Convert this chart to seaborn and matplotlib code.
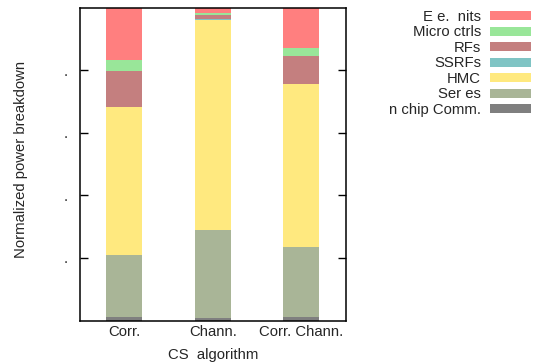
import numpy as np
import pandas as pd
import matplotlib
matplotlib.use("Agg")
import matplotlib.pyplot as plt
from matplotlib.patches import Patch
import seaborn as sns

# Per-algorithm power breakdown (fractions of total), bottom to top
algorithms = ["Corr.", "Chann.", "Corr. Chann."]
onchip_comm = [0.011, 0.008, 0.011]
services = [0.198, 0.281, 0.223]
hmc = [0.472, 0.671, 0.522]
ssrfs = [0.000, 0.003, 0.000]
rfs = [0.116, 0.012, 0.089]
micro_ctrls = [0.035, 0.006, 0.026]
exec_units = [0.168, 0.019, 0.129]

layer_names = ["n chip Comm.", "Ser es", "HMC", "SSRFs", "RFs", "Micro ctrls", "E e.  nits"]
layer_values = [onchip_comm, services, hmc, ssrfs, rfs, micro_ctrls, exec_units]
layer_colors = ["#7f7f7f", "#a9b597", "#ffe97f", "#7fc4c4", "#c47f7f", "#99e699", "#ff7f7f"]

ytick_values = [0.2, 0.4, 0.6, 0.8]
ytick_labels = [".", ".", ".", "."]

sns.set_theme(style="white")
plt.rcParams["font.family"] = ["Liberation Sans", "DejaVu Sans"]
fs = 10.7

fig = plt.figure(figsize=(5.34, 3.63), dpi=100)
ax = fig.add_axes([80 / 534, 1 - 320.5 / 363, 265.5 / 534, 313 / 363])

cum = np.cumsum(np.array(layer_values), axis=0)
# Draw tallest cumulative layer first so each segment shows on top of the previous
for i in range(len(layer_names) - 1, -1, -1):
    df = pd.DataFrame({"algorithm": algorithms, "value": cum[i]})
    sns.barplot(data=df, x="algorithm", y="value", color=layer_colors[i],
                saturation=1, width=0.41, linewidth=0, ax=ax, order=algorithms)

ax.set_xlim(-0.5, 2.5)
ax.set_ylim(0, 1.0)
ax.set_yticks(ytick_values)
ax.set_yticklabels(ytick_labels, fontsize=fs)
ax.tick_params(axis="y", direction="in", length=6, width=1, color="black",
               right=True, left=True, pad=9)
ax.tick_params(axis="x", length=0, labelsize=fs, pad=3)
for s in ax.spines.values():
    s.set_color("black")
    s.set_linewidth(1.1)
ax.set_xlabel("CS  algorithm", fontsize=fs, labelpad=7)
ax.set_ylabel("Normalized power breakdown", fontsize=fs)
ax.yaxis.set_label_coords(-0.196, 0.515)

handles = [Patch(facecolor=c, edgecolor="none") for c in layer_colors[::-1]]
leg = fig.legend(handles, layer_names[::-1], loc="upper right",
                 bbox_to_anchor=(1.0, 1 - 7 / 363),
                 frameon=False, markerfirst=False, fontsize=fs,
                 handlelength=2.75, handleheight=0.55, labelspacing=0.1,
                 handletextpad=0.6, borderaxespad=0, borderpad=0.2)

fig.savefig("out.png", dpi=100)
